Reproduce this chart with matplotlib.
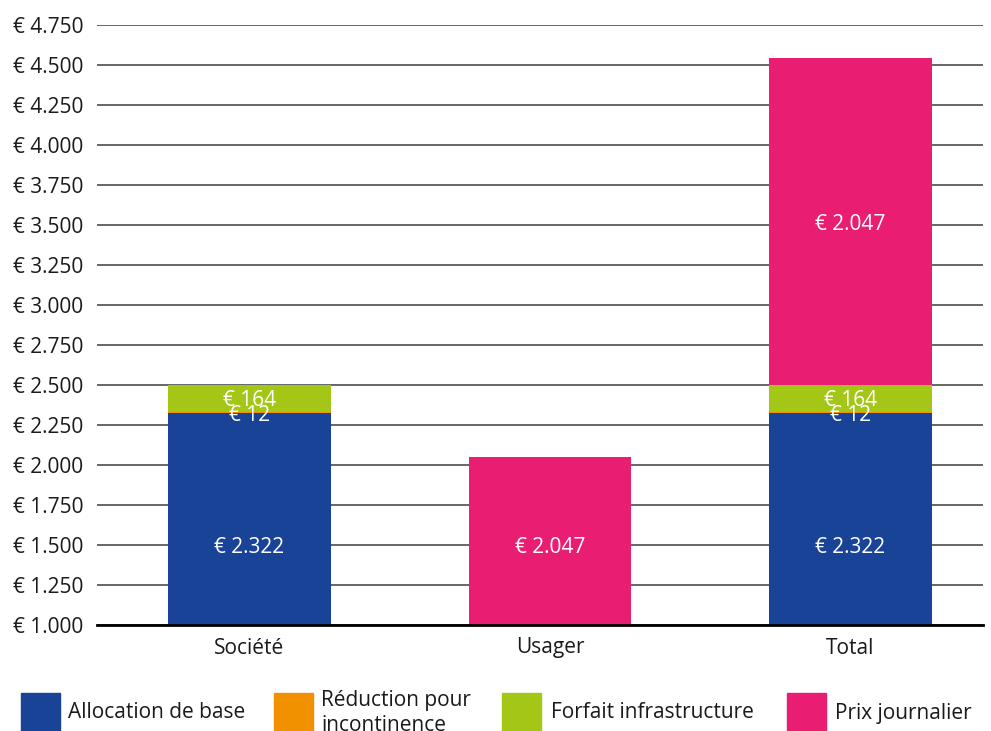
import matplotlib
matplotlib.use("Agg")
import matplotlib.pyplot as plt
from matplotlib.patches import Rectangle
import numpy as np

plt.rcParams['font.family'] = ['Open Sans', 'DejaVu Sans']

categories = ["Société", "Usager", "Total"]
series_names = ["Allocation de base", "Réduction pour\nincontinence", "Forfait infrastructure", "Prix journalier"]
allocation_base = [2322, 0, 2322]
reduction_incontinence = [12, 0, 12]
forfait_infra = [164, 0, 164]
prix_journalier = [0, 2047, 2047]
series = [allocation_base, reduction_incontinence, forfait_infra, prix_journalier]
colors = ["#184396", "#F29100", "#A3C617", "#E91E73"]
y_ticks = list(range(1000, 4751, 250))


def euro(v):
    return "€ " + f"{int(v):,}".replace(",", ".")


W, H = 991, 731
fig = plt.figure(figsize=(W / 100, H / 100), dpi=100)
ax = fig.add_axes([97 / W, 1 - 625 / H, (983 - 97) / W, (625 - 25) / H])

ymin, ymax = 1000, 4750
x = np.arange(len(categories))
bottom = np.zeros(len(categories))
width = 0.542
for vals, col in zip(series, colors):
    vals = np.array(vals, dtype=float)
    ax.bar(x, vals, width, bottom=bottom, color=col, zorder=2)
    for xi, v, b in zip(x, vals, bottom):
        if v <= 0:
            continue
        center = b + v / 2
        ylab = max(center, ymin + 500)
        ax.text(xi, ylab, euro(v), ha="center", va="center_baseline",
                color="white", fontsize=15, zorder=3)
    bottom = bottom + vals

ax.set_ylim(ymin, ymax)
ax.set_xlim(-0.5075, 2.441)
ax.set_yticks(y_ticks)
ax.set_yticklabels([euro(t) for t in y_ticks])
ax.set_xticks(x)
ax.set_xticklabels(categories)
ax.tick_params(axis="both", length=0, labelsize=15, colors="#1a1a1a")
ax.tick_params(axis="y", pad=10)
ax.tick_params(axis="x", pad=9)
ax.grid(axis="y", color="#3d3d3d", linewidth=1.1, zorder=0)
ax.set_axisbelow(True)
for s in ["left", "right", "top"]:
    ax.spines[s].set_visible(False)
ax.spines["bottom"].set_color("black")
ax.spines["bottom"].set_linewidth(2.0)
ax.spines["bottom"].set_zorder(4)

# legend
leg_sq_x = [21, 274, 502, 787]
leg_tx_x = [68, 321, 551, 835]
sq = 39
top = 693
for name, col, sx, tx in zip(series_names, colors, leg_sq_x, leg_tx_x):
    fig.add_artist(Rectangle((sx / W, 1 - (top + sq) / H), sq / W, sq / H,
                             transform=fig.transFigure, color=col))
    fig.text(tx / W, 1 - 713 / H, name, ha="left", va="center", fontsize=15,
             color="#1a1a1a", linespacing=1.3)

fig.savefig("out.png", dpi=100)
